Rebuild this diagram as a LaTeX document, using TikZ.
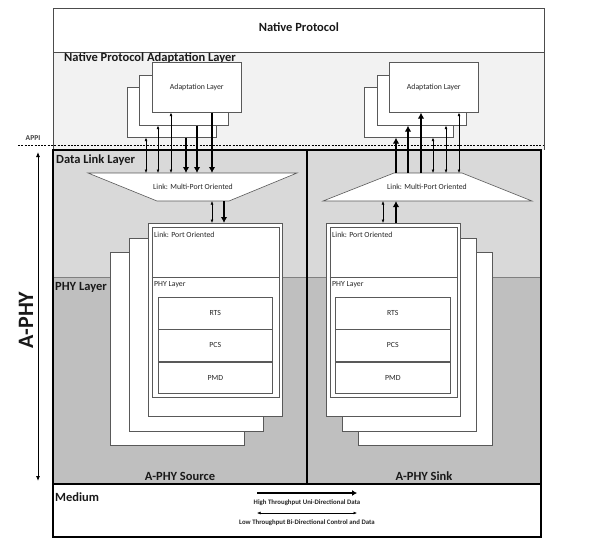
\documentclass[tikz,border=0pt]{standalone}
\usepackage{fontspec}
\setmainfont{Carlito}
\usetikzlibrary{arrows.meta}
\begin{document}
\begin{tikzpicture}[x=1pt,y=-1pt,
  box/.style={draw=black!65, fill=white, line width=0.6pt, inner sep=0pt, anchor=north west, font=\fontsize{7.8}{9}\selectfont, text=black!85},
  title/.style={font=\fontsize{12.5}{14}\selectfont\bfseries, inner sep=0pt, text=black!90},
  small/.style={font=\fontsize{7.8}{9}\selectfont, inner sep=0pt, text=black!85},
  tiny/.style={font=\fontsize{6.8}{8}\selectfont\bfseries, inner sep=0pt, text=black!85},
  bidir/.style={line width=0.5pt, {Latex[length=3.5pt,width=2.8pt]}-{Latex[length=3.5pt,width=2.8pt]}},
  fat/.style={line width=2.2pt, -{Latex[length=6pt,width=6.5pt]}},
  thickframe/.style={line width=2pt, draw=black},
  trap/.style={draw=black!65, fill=white, line width=0.6pt},
]
\useasboundingbox (0,0) rectangle (591,544);

% ---------- native protocol & adaptation region
\fill[black!5] (53,52) rectangle (544,150);
\draw[black!70, line width=0.7pt] (53,52) -- (53,150) (544,52) -- (544,150);
\node[draw=black!70, line width=0.7pt, fill=white, minimum width=491, minimum height=44, inner sep=0pt, anchor=north west] (npbox) at (53,8) {};
\node[title] (np) at ([yshift=3pt]npbox.center) {Native Protocol};
\node[title, anchor=west] (npal) at (64,58) {Native Protocol Adaptation Layer};

% APPI
\node[font=\fontsize{7.5}{8}\selectfont\bfseries, inner sep=0pt, text=black!75] (appi) at (33,138) {APPI};
\coordinate (appiL) at (18,145);
\coordinate (appiR) at (544,145);
\draw[line width=0.9pt, dash pattern=on 2pt off 1.3pt] (appiL) -- (appiR);

% ---------- A-PHY regions
\fill[black!15] (53,150) rectangle (541,277);
\fill[black!25] (53,277) rectangle (541,484);
\draw[black!50, line width=0.4pt] (53,277) -- (541,277);
\draw[thickframe] (53,150) rectangle (541,484);
\draw[thickframe] (306.5,150) -- (306.5,484);
\node[title, anchor=west] (dll) at (56,160) {Data Link Layer};
\node[title, anchor=west] (phyl) at (55,287) {PHY Layer};
\node[title] (src) at (180,476) {A-PHY Source};
\node[title] (snk) at (424,476) {A-PHY Sink};

% Medium
\draw[thickframe, fill=white] (53,484) rectangle (541,537);
\node[title, anchor=west] (med) at (55,497) {Medium};
\coordinate (m1L) at (257,493); \coordinate (m1R) at (357,493);
\coordinate (m2L) at (257,513); \coordinate (m2R) at (357,513);
\draw[line width=2.2pt, -{Latex[length=5pt,width=6pt]}] (m1L) -- (m1R);
\node[tiny] (htl) at (307,503) {High Throughput Uni-Directional Data};
\draw[bidir] (m2L) -- (m2R);
\node[tiny] (ltl) at (307,523) {Low Throughput Bi-Directional Control and Data};

% A-PHY arrow
\coordinate (aT) at (38,152); \coordinate (aB) at (38,481);
\draw[line width=0.8pt, {Latex[length=5pt,width=4pt]}-{Latex[length=5pt,width=4pt]}] (aT) -- (aB);
\node[font=\fontsize{22}{24}\selectfont\bfseries, inner sep=0pt, rotate=90, text=black!90] (aphy) at (26,320) {A-PHY};

% ---------- adaptation stacks
\node[box, minimum width=89, minimum height=50] (la3) at (127,87) {};
\node[box, minimum width=89, minimum height=50] (la2) at (139,75) {};
\node[box, minimum width=89, minimum height=50] (la1) at (152,62) {Adaptation Layer};
\node[box, minimum width=89, minimum height=50] (ra3) at (364,87) {};
\node[box, minimum width=89, minimum height=50] (ra2) at (377,75) {};
\node[box, minimum width=89, minimum height=50] (ra1) at (389,62) {Adaptation Layer};

% ---------- trapezoids
\coordinate (ltTL) at (88,173); \coordinate (ltTR) at (297,173);
\coordinate (ltBR) at (229,201); \coordinate (ltBL) at (157,201);
\draw[trap] (ltTL) -- (ltTR) -- (ltBR) -- (ltBL) -- cycle;
\node[small] (lt) at (193,187) {Link: Multi-Port Oriented};
\coordinate (rtTL) at (394,173); \coordinate (rtTR) at (462,173);
\coordinate (rtBR) at (532,201); \coordinate (rtBL) at (323,201);
\draw[trap] (rtTL) -- (rtTR) -- (rtBR) -- (rtBL) -- cycle;
\node[small] (rt) at (427,187) {Link: Multi-Port Oriented};

% ---------- port stacks left
\node[box, minimum width=134, minimum height=193] (lp3) at (110,252) {};
\node[box, minimum width=134, minimum height=193] (lp2) at (129,237.5) {};
\node[box, minimum width=134, minimum height=193] (lp1) at (148,223) {};
\node[box, minimum width=127, minimum height=170] (lpi) at (151.5,227) {};
\draw[black!65, line width=0.6pt] (lpi.west |- 0,277) -- (lpi.east |- 0,277);
\node[small, anchor=west] (lpo) at (154,235) {Link: Port Oriented};
\node[small, anchor=west] (lphy) at (154,285) {PHY Layer};
\node[box, minimum width=114, minimum height=31.7] (lrts) at (158,297) {RTS};
\node[box, minimum width=114, minimum height=31.7] (lpcs) at (lrts.south west) {PCS};
\node[box, minimum width=114, minimum height=31.7] (lpmd) at (lpcs.south west) {PMD};

% ---------- port stacks right
\node[box, minimum width=134, minimum height=193] (rp3) at (358,252) {};
\node[box, minimum width=134, minimum height=193] (rp2) at (342,237.5) {};
\node[box, minimum width=134, minimum height=193] (rp1) at (326,223) {};
\node[box, minimum width=127, minimum height=170] (rpi) at (329.5,227) {};
\draw[black!65, line width=0.6pt] (rpi.west |- 0,277) -- (rpi.east |- 0,277);
\node[small, anchor=west] (rpo) at (332,235) {Link: Port Oriented};
\node[small, anchor=west] (rphy) at (332,285) {PHY Layer};
\node[box, minimum width=115, minimum height=31.7] (rrts) at (335,297) {RTS};
\node[box, minimum width=115, minimum height=31.7] (rpcs) at (rrts.south west) {PCS};
\node[box, minimum width=115, minimum height=31.7] (rpmd) at (rpcs.south west) {PMD};

% ---------- arrows left
\draw[bidir] (146,0 |- la3.south) -- (146,0 |- ltTL);
\draw[bidir] (158,0 |- la2.south) -- (158,0 |- ltTL);
\draw[bidir] (171,0 |- la1.south) -- (171,0 |- ltTL);
\draw[fat] (186,0 |- la3.south) -- (186,0 |- ltTL);
\draw[fat] (197,0 |- la2.south) -- (197,0 |- ltTL);
\draw[fat] (212,0 |- la1.south) -- (212,0 |- ltTL);
\draw[bidir] (212,0 |- ltBL) -- (212,0 |- lp1.north);
\draw[fat] (224,0 |- ltBL) -- (224,0 |- lp1.north);

% ---------- arrows right
\draw[fat] (396,0 |- rtTL) -- (396,0 |- ra3.south);
\draw[fat] (408,0 |- rtTL) -- (408,0 |- ra2.south);
\draw[fat] (421,0 |- rtTL) -- (421,0 |- ra1.south);
\draw[bidir] (433,0 |- ra3.south) -- (433,0 |- rtTL);
\draw[bidir] (446,0 |- ra2.south) -- (446,0 |- rtTL);
\draw[bidir] (459,0 |- ra1.south) -- (459,0 |- rtTL);
\draw[bidir] (383,0 |- rp1.north) -- (383,0 |- rtBL);
\draw[fat] (396,0 |- rp1.north) -- (396,0 |- rtBL);
\end{tikzpicture}
\end{document}
